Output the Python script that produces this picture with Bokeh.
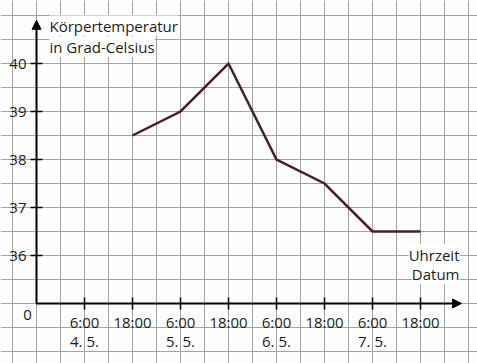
from bokeh.plotting import figure
from bokeh.models import (Range1d, Grid, SingleIntervalTicker, Arrow, NormalHead, Label)
from bokeh.core.properties import value
from bokeh.embed import file_html
from bokeh.resources import INLINE

# ---- data ----
# x positions: one unit = 12 hours, 1 = 6:00 on 4.5.
time_ticks = [1, 2, 3, 4, 5, 6, 7, 8]
time_labels = ["6:00", "18:00", "6:00", "18:00", "6:00", "18:00", "6:00", "18:00"]
date_labels = ["4. 5.", "", "5. 5.", "", "6. 5.", "", "7. 5.", ""]
temp_ticks = [36, 37, 38, 39, 40]
temp_labels = ["36", "37", "38", "39", "40"]
meas_x = [2, 3, 4, 5, 6, 7, 8]
meas_temp = [38.5, 39.0, 40.0, 38.0, 37.5, 36.5, 36.5]
y_base = 35  # broken axis: origin shown as "0"

FONT = value("Open Sans")
TXT = "#1c1c1c"

p = figure(width=477, height=363, output_backend="svg", toolbar_location=None,
           x_axis_location=None, y_axis_location=None, min_border=0,
           x_range=Range1d(-0.75, 9.1875), y_range=Range1d(33.75, 41.3125))
p.outline_line_color = None
p.background_fill_color = "#fdfdfd"
p.border_fill_color = "#ffffff"

# squared paper grid
for dim in (0, 1):
    g = Grid(dimension=dim, ticker=SingleIntervalTicker(interval=0.5),
             grid_line_color="#a4a4a4", grid_line_width=1)
    p.add_layout(g)

# axes with arrows
p.add_layout(Arrow(x_start=0, y_start=y_base, x_end=8.854, y_end=y_base,
                   line_color="black", line_width=2,
                   end=NormalHead(size=9, fill_color="black", line_color="black")))
p.add_layout(Arrow(x_start=0, y_start=y_base, x_end=0, y_end=40.9,
                   line_color="black", line_width=2,
                   end=NormalHead(size=9, fill_color="black", line_color="black")))

# tick marks
p.segment(x0=time_ticks, y0=[y_base - 0.125] * len(time_ticks),
          x1=time_ticks, y1=[y_base + 0.125] * len(time_ticks),
          line_color="black", line_width=1.5)
p.segment(x0=[-0.125] * len(temp_ticks), y0=temp_ticks,
          x1=[0.125] * len(temp_ticks), y1=temp_ticks,
          line_color="black", line_width=1.5)

# tick labels
p.text(x=time_ticks, y=[y_base] * len(time_ticks), text=time_labels,
       text_font=FONT, text_font_size="15px", text_color=TXT,
       text_align="center", text_baseline="middle", y_offset=18)
p.text(x=time_ticks, y=[y_base] * len(time_ticks), text=date_labels,
       text_font=FONT, text_font_size="15px", text_color=TXT,
       text_align="center", text_baseline="middle", y_offset=37)
p.text(x=[0] * len(temp_ticks), y=temp_ticks, text=temp_labels,
       text_font=FONT, text_font_size="15px", text_color=TXT,
       text_align="right", text_baseline="middle", x_offset=-10)
p.text(x=[0], y=[y_base], text=["0"], text_font=FONT, text_font_size="15px",
       text_color=TXT, text_align="center", text_baseline="middle",
       x_offset=-9, y_offset=11)

# data line
p.line(meas_x, meas_temp, line_color="#4a1c2c", line_width=2.5, line_join="miter")

# axis titles
for txt, yy in (("Körpertemperatur", 40.79), ("in Grad-Celsius", 40.35)):
    p.add_layout(Label(x=0.27, y=yy, text=txt, text_font="Open Sans",
                       text_font_size="15px", text_color=TXT,
                       text_baseline="middle", text_align="left",
                       background_fill_color="#ffffff"))
for txt, yy in (("Uhrzeit", 36.02), ("Datum", 35.625)):
    p.add_layout(Label(x=8.8125, y=yy, text=txt, text_font="Open Sans",
                       text_font_size="15px", text_color=TXT,
                       text_baseline="middle", text_align="right",
                       background_fill_color="#ffffff"))

open("out.html", "w").write(file_html(p, INLINE))
